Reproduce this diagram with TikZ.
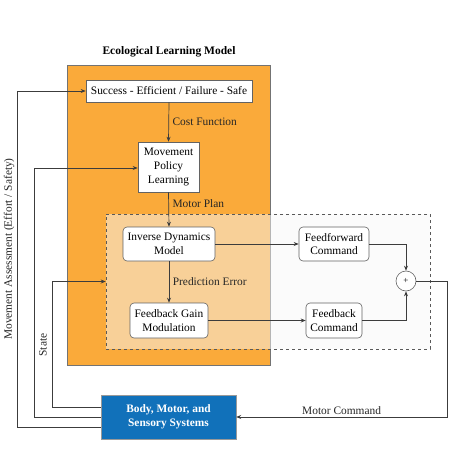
\documentclass[tikz,border=0pt]{standalone}
\usepackage{fontspec}
\setmainfont{Liberation Serif}
\usetikzlibrary{arrows.meta,positioning,calc}
\definecolor{orangebg}{RGB}{250,170,58}
\definecolor{bodyblue}{RGB}{17,113,186}
\definecolor{linec}{RGB}{60,60,60}
\begin{document}
\begin{tikzpicture}[x=1pt,y=-1pt,
  every node/.style={font=\fontsize{11.4}{13.7}\selectfont, inner sep=1pt},
  box/.style={draw=linec!80, fill=white, line width=0.6pt, align=center},
  rbox/.style={box, rounded corners=4pt},
  arr/.style={draw=linec, line width=0.7pt, -{Stealth[length=5pt,width=4pt]}},
  lbl/.style={anchor=west, text=black!85, xshift=2.5pt}]
\useasboundingbox (0,0) rectangle (450,450);
% orange frame
\node[draw=black!55, fill=orangebg, line width=0.5pt, minimum width=203pt, minimum height=300pt] (org) at (168.5,215) {};
\node[font=\fontsize{11.5}{13}\selectfont\bfseries] (title) at (169,52) {Ecological Learning Model};
% dashed region
\node[draw=black!65, dashed, line width=0.6pt, fill=gray!6, fill opacity=0.5, minimum width=324pt, minimum height=135pt] (dash) at (268,281.5) {};
% nodes
\node[box, minimum width=166pt, minimum height=22pt] (succ) at (169,91) {Success - Efficient / Failure - Safe};
\node[box, minimum width=61pt, minimum height=50pt] (mpl) at (168.5,167) {Movement\\Policy\\Learning};
\node[rbox, minimum width=92pt, minimum height=34pt] (idm) at (169,244) {Inverse Dynamics\\Model};
\node[rbox, minimum width=70pt, minimum height=34pt] (ff) at (334,244) {Feedforward\\Command};
\node[rbox, minimum width=78pt, minimum height=35pt] (fgm) at (169,320.5) {Feedback Gain\\Modulation};
\node[rbox, minimum width=56pt, minimum height=35pt] (fc) at (334,320.5) {Feedback\\Command};
\node[draw=linec!80, fill=white, circle, minimum size=20pt, inner sep=0pt, line width=0.6pt, font=\fontsize{9}{10}\selectfont] (sum) at (406,281) {+};
\node[draw=black!40, fill=bodyblue, text=white, align=center, minimum width=135pt, minimum height=44pt, font=\fontsize{11.4}{13.7}\selectfont\bfseries] (body) at (168.5,417) {Body, Motor, and\\Sensory Systems};
% connectors
\draw[arr] (succ.south) -- (mpl.north) node[lbl, pos=0.5] {Cost Function};
\draw[arr] (mpl.south) -- (idm.north) node[lbl, pos=0.33] {Motor Plan};
\draw[arr] (idm.south) -- (fgm.north) node[lbl, pos=0.5] {Prediction Error};
\draw[arr] (idm.east) -- (ff.west);
\draw[arr] (ff.east) -| (sum.north);
\draw[arr] (fgm.east) -- (fc.west);
\draw[arr] (fc.east) -| (sum.south);
\coordinate (mc) at (447,281);
\draw[arr] (sum.east) -- (mc) |- (body.east) node[pos=0.75, above=1pt, text=black!85] {Motor Command};
% feedback lines
\coordinate (o1) at (17,427);
\coordinate (o2) at (17,91);
\draw[arr] (body.west |- o1) -- (o1) -- (o2) -- (succ.west);
\coordinate (m1) at (34,417);
\coordinate (m2) at (34,168);
\draw[arr] (body.west |- m1) -- (m1) -- (m2) -- (mpl.west |- m2);
\coordinate (s1) at (52,407);
\coordinate (s2) at (52,281.5);
\draw[arr] (body.west |- s1) -- (s1) -- (s2) -- (dash.west);
\node[rotate=90, text=black!85] (st) at (43,345) {State};
\node[rotate=90, text=black!85] (ma) at (9,249) {Movement Assessment (Effort / Safety)};
\end{tikzpicture}
\end{document}
